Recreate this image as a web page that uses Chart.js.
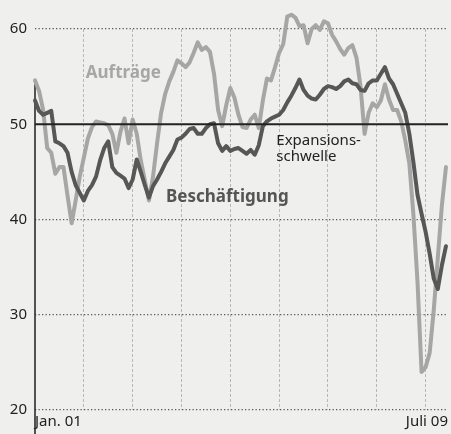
<!DOCTYPE html>
<html>
<head>
<meta charset="utf-8">
<script src="https://cdn.jsdelivr.net/npm/chart.js@4.4.0/dist/chart.umd.min.js"></script>
<style>
  html, body { margin: 0; padding: 0; background: #efefed; }
  #wrap { width: 451px; height: 434px; }
</style>
</head>
<body>
<div id="wrap"><canvas id="pmiChart" width="451" height="434"></canvas></div>
<script>
// months since Jan 2001, one value per month up to June 2009
const startLabel = 'Jan. 01';
const endLabel = 'Juli 09';
const yearTicks = [0, 12, 24, 36, 48, 60, 72, 84, 96];
const lastMonth = 101.5;
const yTicks = [20, 30, 40, 50, 60];
const threshold = 50;

const auftraege = [
  54.6, 53.5, 51.5, 47.5, 47, 44.8, 45.5, 45.5, 42.5, 39.6,
  42, 44.5, 46.5, 48.5, 49.7, 50.3, 50.2, 50.1, 49.9, 49,
  47, 49.2, 50.6, 48, 50.5, 49, 46.2, 44.1, 42, 44.5,
  48, 51.2, 53.2, 54.5, 55.5, 56.7, 56.4, 56, 56.5, 57.5,
  58.6, 57.8, 58.1, 57.6, 55.3, 51.5, 49.8, 52, 53.8, 52.8,
  51, 49.7, 49.6, 50.5, 51, 49.6, 52.5, 54.8, 54.6, 56,
  57.5, 58.4, 61.3, 61.5, 61.2, 60.3, 60.4, 58.5, 60, 60.4,
  59.9, 60.8, 60.6, 59.4, 58.7, 57.9, 57.3, 58, 58.3, 57,
  54, 49, 51.2, 52.2, 51.8, 52.5, 54.2, 52.6, 51.5, 51.5,
  50.3, 48.3, 45.9, 40.5, 33.5, 24, 24.5, 26, 30.5, 36,
  41.5, 45.5
];

const beschaeftigung = [
  52.5, 51.4, 51, 51.2, 51.4, 48.2, 48, 47.7, 47, 45,
  43.6, 42.8, 42, 43, 43.6, 44.5, 46.2, 47.5, 48.2, 45.5,
  44.9, 44.6, 44.3, 43.3, 44.2, 46.3, 45, 43.6, 42.3, 43.5,
  44.2, 45, 45.9, 46.6, 47.3, 48.4, 48.6, 49, 49.5, 49.6,
  49, 49, 49.6, 50, 50.1, 48, 47.2, 47.7, 47.2, 47.4,
  47.5, 47.2, 46.9, 47.3, 46.8, 47.8, 49.8, 50.3, 50.6, 50.8,
  51, 51.5, 52.3, 53, 53.8, 54.7, 53.6, 53, 52.7, 52.6,
  53.1, 53.7, 54, 53.9, 53.7, 54, 54.5, 54.7, 54.3, 54.2,
  53.6, 53.5, 54.3, 54.6, 54.6, 55.3, 56, 54.8, 54.2, 53.2,
  52.2, 51.2, 49, 46, 42.6, 40.6, 38.7, 36.4, 33.8, 32.7,
  35.2, 37.2
];

const toPoints = (arr) => arr.map((v, i) => ({ x: i, y: v }));

const fontFamily = "'Noto Sans', 'Open Sans', sans-serif";

// y-axis line, series names and the "Expansionsschwelle" note
const annotate = {
  id: 'annotate',
  beforeDatasetsDraw(chart) {
    const { ctx, scales: { x, y } } = chart;
    const ax = x.getPixelForValue(0);
    ctx.save();
    ctx.strokeStyle = '#2b2b2b';
    ctx.lineWidth = 1.6;
    ctx.beginPath();
    ctx.moveTo(ax, y.getPixelForValue(54.2));
    ctx.lineTo(ax, chart.height);
    ctx.stroke();
    ctx.restore();
  },
  afterDatasetsDraw(chart) {
    const { ctx, scales: { x, y } } = chart;
    ctx.save();
    ctx.textBaseline = 'middle';

    ctx.font = "bold 17px " + fontFamily;
    ctx.fillStyle = '#a6a6a6';
    ctx.textAlign = 'center';
    ctx.fillText('Aufträge', x.getPixelForValue(21.7), y.getPixelForValue(55.4));

    ctx.fillStyle = '#555555';
    ctx.textAlign = 'left';
    ctx.fillText('Beschäftigung', x.getPixelForValue(32.2), y.getPixelForValue(42.3));

    ctx.font = "15px " + fontFamily;
    ctx.fillStyle = '#222222';
    ctx.fillText('Expansions-', x.getPixelForValue(59.3), y.getPixelForValue(48.3));
    ctx.fillText('schwelle', x.getPixelForValue(59.3), y.getPixelForValue(46.6));
    ctx.restore();
  }
};

const bgPlugin = {
  id: 'bg',
  beforeDraw(chart) {
    const ctx = chart.ctx;
    ctx.save();
    ctx.fillStyle = '#efefed';
    ctx.fillRect(0, 0, chart.width, chart.height);
    ctx.restore();
  }
};

const ctx = document.getElementById('pmiChart').getContext('2d');
const pmiChart = new Chart(ctx, {
  type: 'line',
  data: {
    datasets: [
      {
        label: 'Expansionsschwelle',
        data: [{ x: 0, y: threshold }, { x: lastMonth, y: threshold }],
        borderColor: '#222222',
        borderWidth: 2.2,
        pointRadius: 0,
        clip: false,
      },
      {
        label: 'Beschäftigung',
        data: toPoints(beschaeftigung),
        borderColor: '#575757',
        borderWidth: 4,
        borderJoinStyle: 'round',
        borderCapStyle: 'round',
        pointRadius: 0,
        tension: 0,
        clip: false,
      },
      {
        label: 'Aufträge',
        data: toPoints(auftraege),
        borderColor: '#a6a6a6',
        borderWidth: 4,
        borderJoinStyle: 'round',
        borderCapStyle: 'round',
        pointRadius: 0,
        tension: 0,
        clip: false,
      },
    ],
  },
  options: {
    responsive: false,
    animation: false,
    layout: { padding: { top: 29, right: 0, bottom: 0, left: 0 } },
    plugins: {
      legend: { display: false },
      tooltip: { enabled: false },
      title: { display: false },
    },
    scales: {
      x: {
        type: 'linear',
        min: 0,
        max: lastMonth,
        afterBuildTicks: (scale) => {
          scale.ticks = yearTicks.concat([lastMonth]).map((v) => ({ value: v }));
        },
        ticks: {
          autoSkip: false,
          maxRotation: 0,
          align: 'inner',
          padding: 3,
          color: '#222222',
          font: { family: fontFamily, size: 15 },
          callback: function (value) {
            if (value === 0) return startLabel;
            if (value === lastMonth) return endLabel;
            return '';
          },
        },
        grid: {
          drawTicks: false,
          lineWidth: 0.8,
          color: (c) => (c.tick && (c.tick.value === 0 || c.tick.value === lastMonth)) ? 'rgba(0,0,0,0)' : '#a8a8a8',
        },
        border: { display: false, dash: [3, 2] },
      },
      y: {
        min: 20,
        max: 60,
        afterBuildTicks: (scale) => {
          scale.ticks = yTicks.map((v) => ({ value: v }));
        },
        afterFit: (scale) => {
          scale.width = 35;
        },
        ticks: {
          padding: 8,
          color: '#222222',
          font: { family: fontFamily, size: 15 },
        },
        grid: {
          drawTicks: false,
          lineWidth: 1.3,
          color: (c) => (c.tick && c.tick.value === threshold) ? 'rgba(0,0,0,0)' : '#5a5a5a',
        },
        border: { display: false, dash: [1.3, 2.2] },
      },
    },
  },
  plugins: [bgPlugin, annotate],
});
</script>
</body>
</html>
